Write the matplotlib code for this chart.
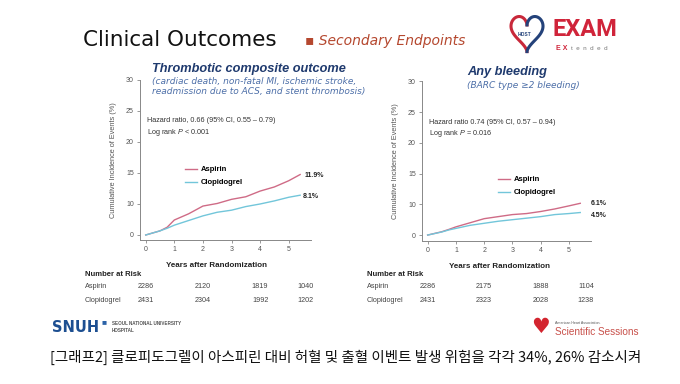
import numpy as np
import matplotlib
matplotlib.use('Agg')
import matplotlib.pyplot as plt
from matplotlib.lines import Line2D
from matplotlib.transforms import blended_transform_factory

plt.rcParams['font.family'] = ['Liberation Sans', 'DejaVu Sans']
plt.rcParams['mathtext.fontset'] = 'custom'
plt.rcParams['mathtext.it'] = 'Liberation Sans:italic'
plt.rcParams['mathtext.rm'] = 'Liberation Sans'

# --- data ---
years = [0, 0.5, 0.75, 1, 1.5, 2, 2.5, 3, 3.5, 4, 4.5, 5, 5.4]
thr_aspirin = [0, 0.8, 1.5, 2.9, 4.1, 5.6, 6.1, 6.9, 7.4, 8.5, 9.3, 10.5, 11.7]
thr_clopi = [0, 0.8, 1.3, 1.9, 2.8, 3.7, 4.4, 4.8, 5.5, 6.0, 6.6, 7.3, 7.7]
bleed_aspirin = [0, 0.65, 1.1, 1.6, 2.4, 3.2, 3.6, 4.0, 4.2, 4.6, 5.1, 5.7, 6.2]
bleed_clopi = [0, 0.6, 1.0, 1.3, 1.9, 2.3, 2.7, 3.0, 3.3, 3.6, 4.0, 4.2, 4.4]

thr_final = ['11.9%', '8.1%']
bleed_final = ['6.1%', '4.5%']

ytick_labels = ['0', '10', '15', '20', '25', '30']
xtick_labels = ['0', '1', '2', '3', '4', '5']

risk_groups = ['Aspirin', 'Clopidogrel']
thr_risk = [[2286, 2120, 1819, 1040], [2431, 2304, 1992, 1202]]
bleed_risk = [[2286, 2175, 1888, 1104], [2431, 2323, 2028, 1238]]
risk_cols = [0, 2, 4, 5.6]

c_asp = '#cf6b86'
c_clo = '#72c6da'
navy = '#1f3a6e'
W, H = 680, 384


def fx(x):
    return x / W


def fy(y):
    return 1 - y / H


fig = plt.figure(figsize=(6.8, 3.84), dpi=100)
fig.patch.set_facecolor('white')


def km_panel(rect, ylo, asp, clo, finals, final_pos, hr, lr, leg_anchor, xlab_x,
             risk, table_x):
    ax = fig.add_axes(rect)
    ax.plot(years, asp, color=c_asp, lw=1.0)
    ax.plot(years, clo, color=c_clo, lw=1.0)
    ax.set_xlim(-0.2, 5.78)
    ax.set_ylim(ylo, 30)
    ax.set_xticks(range(6))
    ax.set_xticklabels(xtick_labels)
    ax.set_yticks(np.linspace(0, 30, 6))
    ax.set_yticklabels(ytick_labels)
    for s in ['top', 'right']:
        ax.spines[s].set_visible(False)
    for s in ['left', 'bottom']:
        ax.spines[s].set_color('#888888')
        ax.spines[s].set_linewidth(0.7)
    ax.tick_params(length=2.5, width=0.6, color='#888888', labelsize=5,
                   labelcolor='#555555', pad=2)
    ax.set_ylabel('Cumulative Incidence of Events (%)', fontsize=5.3, color='#555555')
    ax.yaxis.set_label_coords(-0.135, 0.5)
    ax.set_xlabel('Years after Randomization', fontsize=5.8, fontweight='bold',
                  color='#222222')
    ax.xaxis.set_label_coords(xlab_x, -0.14)
    # end labels
    for lab, (px, py) in zip(finals, final_pos):
        ax.text(px, py, lab, fontsize=5, fontweight='bold', color='#222222',
                va='center', ha='left')
    # hazard ratio text
    ax.text(0.04, 0.735, hr, transform=ax.transAxes, fontsize=5.2, color='#333333')
    ax.text(0.04, 0.665, lr, transform=ax.transAxes, fontsize=5.2, color='#333333')
    handles = [Line2D([], [], color=c_asp, lw=1.0), Line2D([], [], color=c_clo, lw=1.0)]
    ax.legend(handles, risk_groups, loc='upper left', bbox_to_anchor=leg_anchor,
              bbox_transform=fig.transFigure, frameon=False, handlelength=1.6,
              handletextpad=0.5, labelspacing=0.75, borderpad=0, borderaxespad=0,
              prop={'weight': 'bold', 'size': 5.5})
    # number at risk table
    tr = blended_transform_factory(ax.transData, fig.transFigure)
    fig.text(fx(table_x), fy(274), 'Number at Risk', fontsize=5.5, fontweight='bold',
             color='#222222', va='center')
    for i, (grp, row_y) in enumerate(zip(risk_groups, [287, 301])):
        fig.text(fx(table_x), fy(row_y), grp, fontsize=5.2, color='#444444', va='center')
        for cx, n in zip(risk_cols, risk[i]):
            ax.text(cx, fy(row_y), str(n), transform=tr, fontsize=5.2, color='#444444',
                    ha='center', va='center')
    return ax


km_panel([fx(140), fy(240), (311 - 140) / W, 160 / H], -0.97,
         thr_aspirin, thr_clopi, thr_final, [(5.55, 11.5), (5.5, 7.5)],
         'Hazard ratio, 0.66 (95% CI, 0.55 \u2013 0.79)', 'Log rank $P$ < 0.001',
         (fx(185), fy(166)), 0.45, thr_risk, 85)
km_panel([fx(422), fy(240.7), (591 - 422) / W, (240.7 - 81.4) / H], -1.1,
         bleed_aspirin, bleed_clopi, bleed_final, [(5.78, 6.2), (5.78, 3.9)],
         'Hazard ratio 0.74 (95% CI, 0.57 \u2013 0.94)', 'Log rank $P$ = 0.016',
         (fx(498), fy(176)), 0.456, bleed_risk, 367)

# panel headings
fig.text(fx(152), fy(69), 'Thrombotic composite outcome', fontsize=9.2, fontweight='bold',
         style='italic', color=navy, va='center')
fig.text(fx(152), fy(81.5), '(cardiac death, non-fatal MI, ischemic stroke,', fontsize=6.5,
         style='italic', color='#4d6fa8', va='center', family='DejaVu Sans')
fig.text(fx(152), fy(91.5), 'readmission due to ACS, and stent thrombosis)', fontsize=6.5,
         style='italic', color='#4d6fa8', va='center', family='DejaVu Sans')
fig.text(fx(467), fy(72), 'Any bleeding', fontsize=9.2, fontweight='bold',
         style='italic', color=navy, va='center')
fig.text(fx(467), fy(86), '(BARC type \u22652 bleeding)', fontsize=6.5,
         style='italic', color='#4d6fa8', va='center', family='DejaVu Sans')

# slide title
fig.text(fx(83), fy(40), 'Clinical Outcomes', fontsize=15.5, color='#111111',
         va='center', family='DejaVu Sans')
fig.text(fx(305), fy(41), '\u25aa Secondary Endpoints', fontsize=10, style='italic',
         color='#b5482f', va='center', family='DejaVu Sans')

# HOST-EXAM logo
lax = fig.add_axes([fx(508), fy(54), 38 / W, 40 / H])
lax.set_axis_off()
t = np.linspace(0, np.pi, 100)
hx = 16 * np.sin(t) ** 3
hy = 13 * np.cos(t) - 5 * np.cos(2 * t) - 2 * np.cos(3 * t) - np.cos(4 * t)
lax.plot(-hx, hy, color='#c8283a', lw=2.2)
lax.plot(hx, hy, color='#24427a', lw=2.2)
lax.set_xlim(-19, 19)
lax.set_ylim(-19, 14)
lax.text(-3, -3, 'HOST', fontsize=3.5, color='#24427a', ha='center', va='center',
         fontweight='bold')
fig.text(fx(552), fy(30), 'EXAM', fontsize=17, fontweight='bold', color='#d0243a',
         va='center', family='Roboto')
fig.text(fx(556), fy(48), 'E X', fontsize=5, fontweight='bold', color='#d0243a',
         va='center')
fig.text(fx(571), fy(48), 't  e  n  d  e  d', fontsize=4.5, color='#777777', va='center')

# SNUH logo
fig.text(fx(52), fy(328), 'SNUH', fontsize=10.5, fontweight='bold', color='#1d4f91',
         va='center', family='DejaVu Sans')
fig.text(fx(102), fy(323), '\u25a0', fontsize=6, color='#2c63a8', va='center')
fig.text(fx(112), fy(323.5), 'SEOUL NATIONAL UNIVERSITY', fontsize=3.3, color='#555555',
         va='center', fontweight='bold')
fig.text(fx(112), fy(330), 'HOSPITAL', fontsize=3.3, color='#555555', va='center',
         fontweight='bold')

# AHA logo
fig.text(fx(531), fy(327), '\u2665', fontsize=15, color='#d3252f', va='center',
         family='DejaVu Sans')
fig.text(fx(555), fy(323), 'American Heart Association.', fontsize=2.6, color='#555555',
         va='center')
fig.text(fx(555), fy(332), 'Scientific Sessions', fontsize=7.2, color='#c8504a',
         va='center')

# caption
fig.text(fx(50), fy(357), '[\uadf8\ub798\ud5042] \ud074\ub85c\ud53c\ub3c4\uadf8\ub810\uc774 '
         '\uc544\uc2a4\ud53c\ub9b0 \ub300\ube44 \ud5c8\ud608 \ubc0f \ucd9c\ud608 '
         '\uc774\ubca4\ud2b8 \ubc1c\uc0dd \uc704\ud5d8\uc744 \uac01\uac01 34%, 26% '
         '\uac10\uc18c\uc2dc\ucf1c', fontsize=10.45, color='#111111', va='center',
         family=['Noto Sans CJK KR', 'DejaVu Sans'])

fig.savefig('out.png', dpi=100)
